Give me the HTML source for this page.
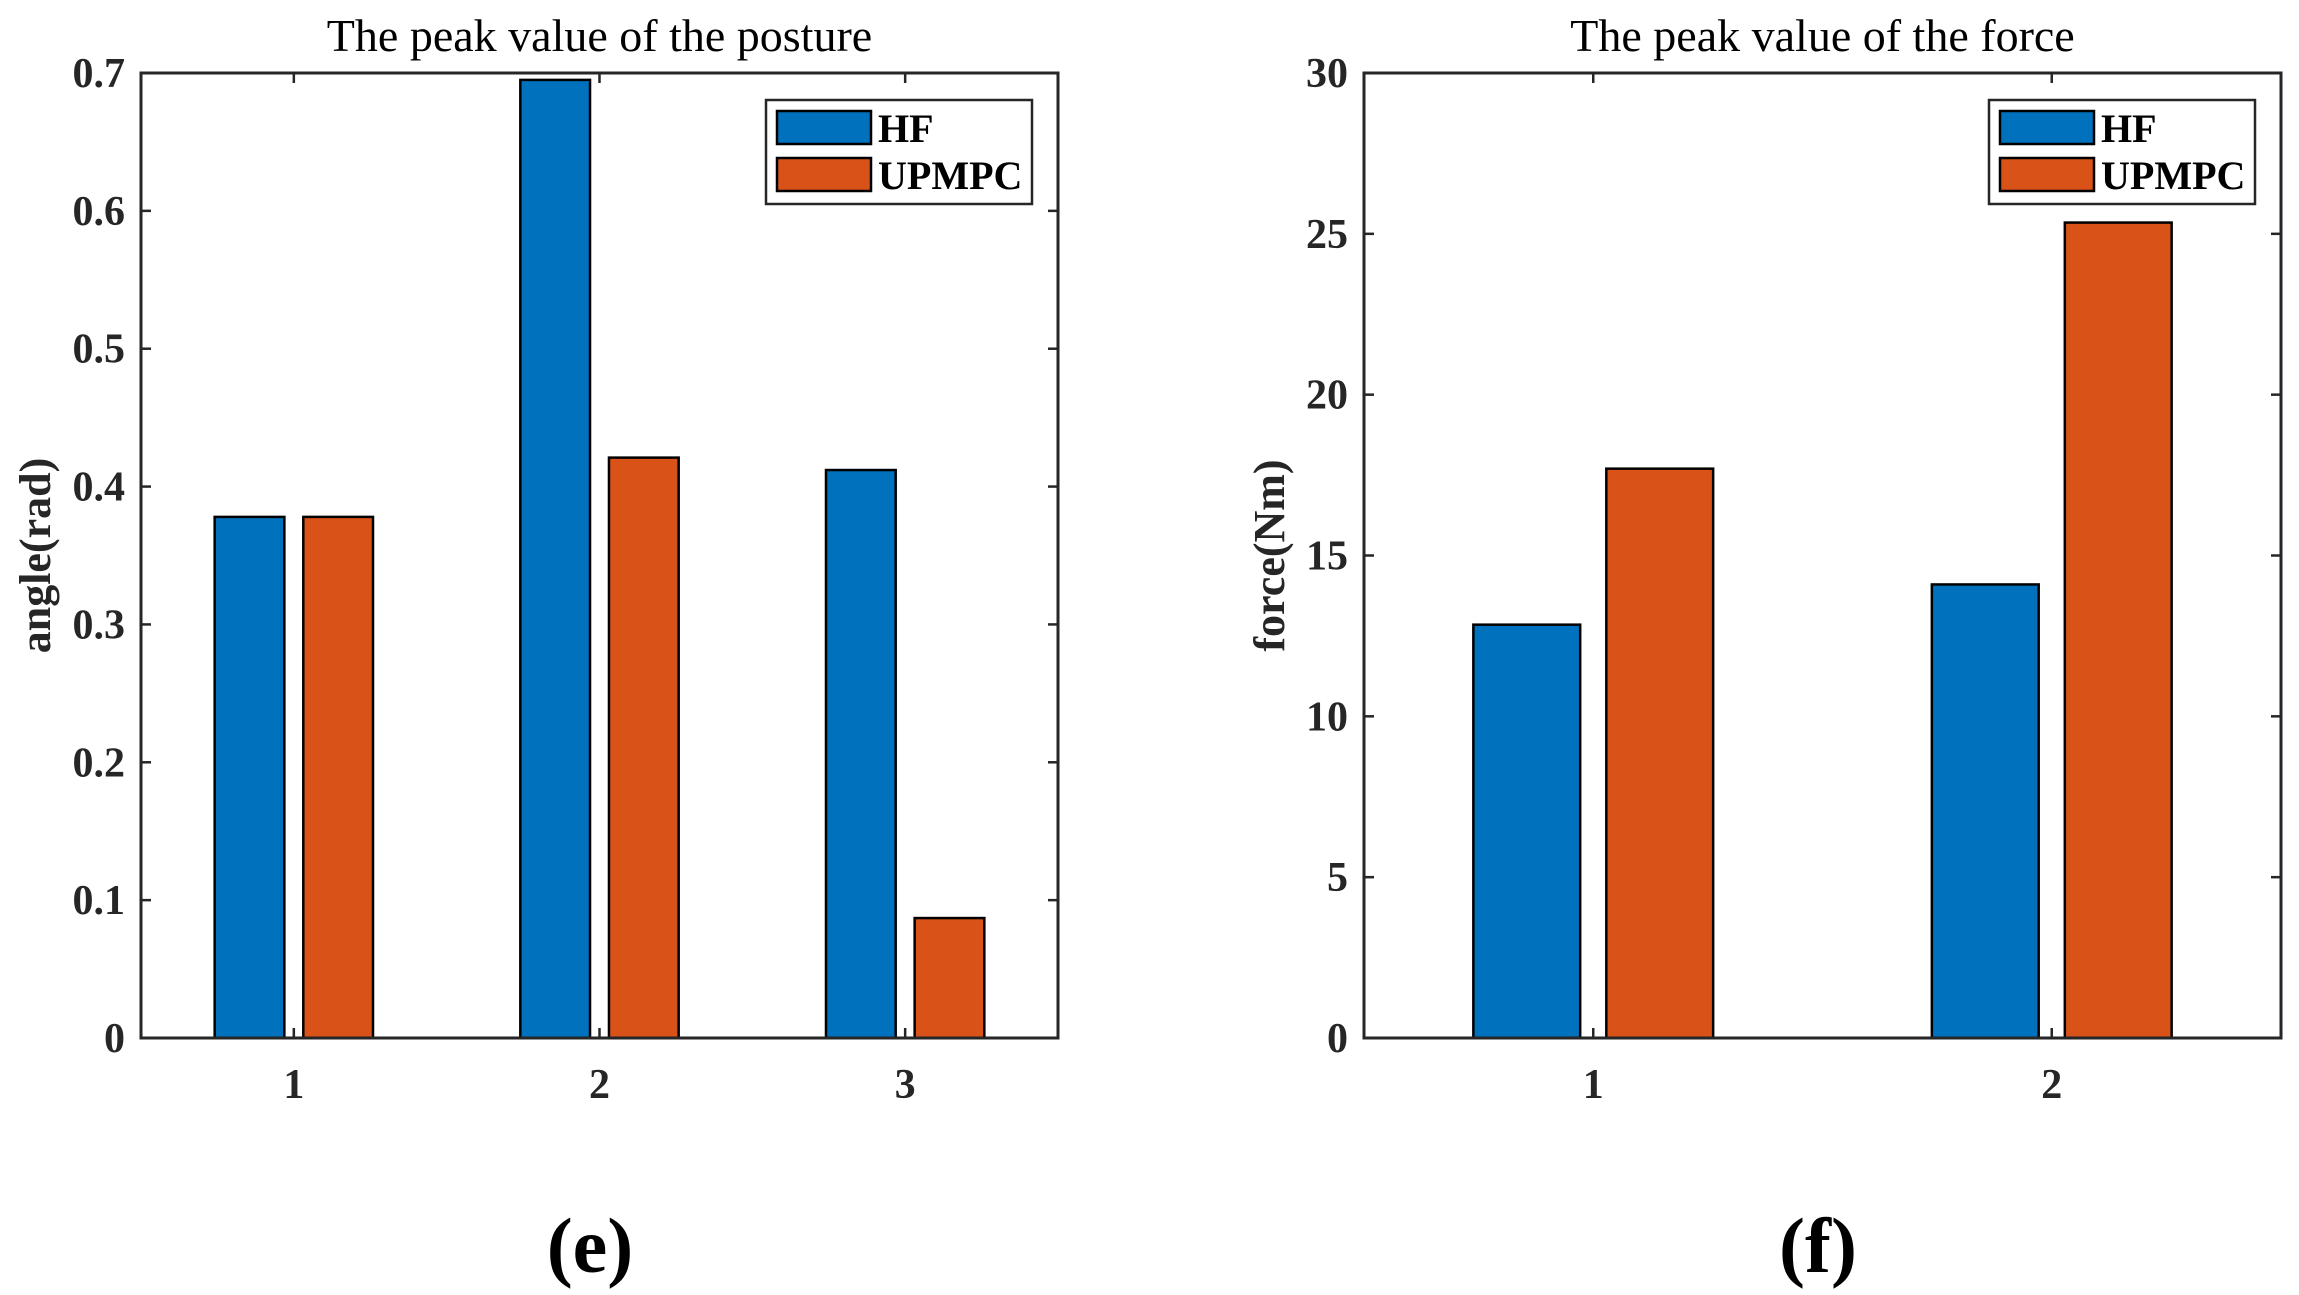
<!DOCTYPE html>
<html><head><meta charset="utf-8"><style>
body{margin:0;background:#fff}
svg{display:block;font-family:"Liberation Serif",serif}
</style></head><body>
<svg id="c" width="2299" height="1295"></svg>
<script>
const NS='http://www.w3.org/2000/svg';
const svg=document.getElementById('c');
const seriesNames=['HF','UPMPC'];
const colors=['#0072BD','#D95319'];
const catsE=['1','2','3'];
const hfE=[0.378,0.695,0.412];
const upE=[0.378,0.421,0.087];
const yTicksE=['0','0.1','0.2','0.3','0.4','0.5','0.6','0.7'];
const catsF=['1','2'];
const hfF=[12.85,14.1];
const upF=[17.7,25.35];
const yTicksF=['0','5','10','15','20','25','30'];

function el(tag,attrs,parent){const e=document.createElementNS(NS,tag);for(const k in attrs)e.setAttribute(k,attrs[k]);(parent||svg).appendChild(e);return e;}

function panel(o){
  const g=el('g',{});
  
  
  const X0=o.x0,X1=o.x1,Y0=o.y0,Y1=o.y1;
  const n=o.cats.length;
  const xs=v=>X0+(v-0.5)/n*(X1-X0);
  const ys=v=>Y1-(v-0)/o.ymax*(Y1-Y0);
  const offs=[-o.off,o.off];
  [o.hf,o.up].forEach((arr,si)=>{
    arr.forEach((v,i)=>{
      const cx=xs(i+1+offs[si]);
      const w=xs(o.bw)-xs(0);
      const r=el('rect',{x:cx-w/2,y:ys(v),width:w,height:ys(0)-ys(v),fill:colors[si],stroke:'#000','stroke-width':2.5},g);
      
      
    });
  });
  const box=el('rect',{x:X0,y:Y0,width:X1-X0,height:Y1-Y0,fill:'none',stroke:'#262626','stroke-width':3},g);
  
  
  o.yticks.forEach(t=>{
    const y=ys(parseFloat(t));
    el('line',{x1:X0,x2:X0+10,y1:y,y2:y,stroke:'#262626','stroke-width':2.5},g);
    el('line',{x1:X1,x2:X1-10,y1:y,y2:y,stroke:'#262626','stroke-width':2.5},g);
    const tx=el('text',{x:X0-16,y:y+14,'text-anchor':'end','font-size':42,'font-weight':'bold',fill:'#262626'},g);
    tx.textContent=t;
    
    
  });
  o.cats.forEach((c,i)=>{
    const x=xs(i+1);
    el('line',{x1:x,x2:x,y1:Y1,y2:Y1-10,stroke:'#262626','stroke-width':2.5},g);
    el('line',{x1:x,x2:x,y1:Y0,y2:Y0+10,stroke:'#262626','stroke-width':2.5},g);
    const tx=el('text',{x:x,y:Y1+60,'text-anchor':'middle','font-size':42,'font-weight':'bold',fill:'#262626'},g);
    tx.textContent=c;
    
    
  });
  const tt=el('text',{x:(X0+X1)/2,y:Y0-22,'text-anchor':'middle','font-size':46,fill:'#000'},g);
  tt.textContent=o.title;
  
  
  const yl=el('text',{x:0,y:0,'text-anchor':'middle','font-size':44,'font-weight':'bold',fill:'#262626',transform:`translate(${o.ylx},${(Y0+Y1)/2}) rotate(-90)`},g);
  yl.textContent=o.ylabel;
  
  
  const cap=el('text',{x:o.capx,y:1272,'text-anchor':'middle','font-size':78,'font-weight':'bold',fill:'#000'},g);
  cap.textContent=o.cap;
  
  
  const lg=el('g',{},g);
  
  
  el('rect',{x:o.lx,y:100,width:266,height:104,fill:'#fff',stroke:'#262626','stroke-width':2.5},lg);
  seriesNames.forEach((s,i)=>{
    const e=el('g',{},lg);
    
    
    el('rect',{x:o.lx+11,y:111+47*i,width:94,height:33,fill:colors[i],stroke:'#000','stroke-width':2.5},e);
    const t=el('text',{x:o.lx+112,y:142+47*i,'font-size':40,'font-weight':'bold',fill:'#000'},e);
    t.textContent=s;
  });
}
panel({name:'posture-chart',x0:141,x1:1058,y0:73,y1:1038,cats:catsE,hf:hfE,up:upE,ymax:0.7,yticks:yTicksE,off:0.145,bw:0.228,title:'The peak value of the posture',ylabel:'angle(rad)',ylx:50,cap:'(e)',capx:590,lx:766});
panel({name:'force-chart',x0:1364,x1:2281,y0:73,y1:1038,cats:catsF,hf:hfF,up:upF,ymax:30,yticks:yTicksF,off:0.145,bw:0.233,title:'The peak value of the force',ylabel:'force(Nm)',ylx:1284,cap:'(f)',capx:1818,lx:1989});
</script>
</body></html>
